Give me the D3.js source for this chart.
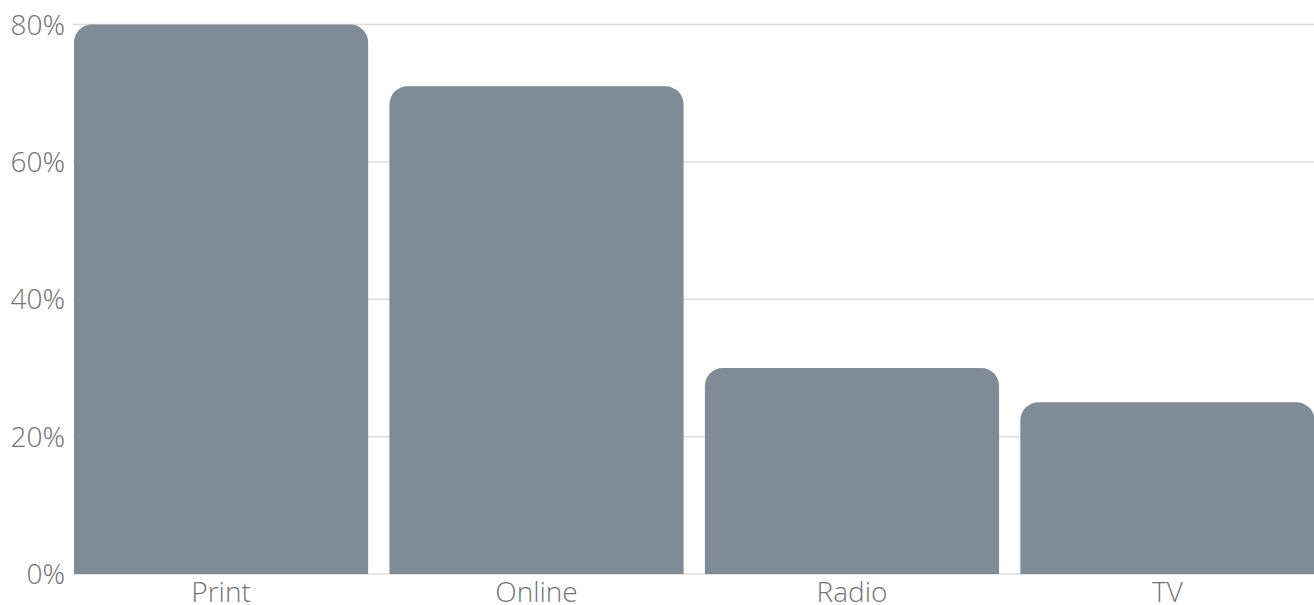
<!DOCTYPE html>
<html>
<head>
<meta charset="utf-8">
<script src="https://cdn.jsdelivr.net/npm/d3@7"></script>
<style>
    body { margin: 0; background: #fff; }
    svg { display: block; }
    .lbl { font-size: 28px; fill: #747474; }
</style>
</head>
<body>
<svg id="chart"></svg>
<script>
const categories = ["Print", "Online", "Radio", "TV"];
const shares = [80, 71, 30, 25];
const yTicks = [0, 20, 40, 60, 80];

const width = 1314;
const height = 605;
const margin = {top: 24.5, right: 0, bottom: 31, left: 74};

const svg = d3.select("#chart")
    .attr("width", width)
    .attr("height", height)
    .style("font-family", "'Open Sans Light', 'Open Sans', sans-serif")
    .style("font-weight", 300);

const x = d3.scaleBand()
    .domain(categories)
    .range([margin.left, width + 0.5])
    .paddingInner(0.0675)
    .paddingOuter(0);

const y = d3.scaleLinear()
    .domain([0, 80])
    .range([height - margin.bottom, margin.top]);

// grid lines
svg.append("g")
    .selectAll("line")
    .data(yTicks)
    .join("line")
        .attr("x1", margin.left - 1)
        .attr("x2", width)
        .attr("y1", d => y(d))
        .attr("y2", d => y(d))
        .attr("stroke", "#dcdcdc")
        .attr("stroke-width", 1.5);

// y labels
svg.append("g")
    .selectAll("text")
    .data(yTicks)
    .join("text")
        .attr("class", "lbl")
        .attr("x", 65)
        .attr("y", d => y(d))
        .attr("dy", "0.36em")
        .attr("text-anchor", "end")
        .text(d => d + "%");

// bars, only the top corners rounded
function barPath(x0, y0, w, y1, r) {
    r = Math.min(r, w / 2, (y1 - y0));
    return `M${x0},${y1}V${y0 + r}A${r},${r} 0 0 1 ${x0 + r},${y0}` +
        `H${x0 + w - r}A${r},${r} 0 0 1 ${x0 + w},${y0 + r}V${y1}Z`;
}

const data = categories.map((c, i) => ({name: c, value: shares[i]}));

svg.append("g")
    .selectAll("path")
    .data(data)
    .join("path")
        .attr("d", d => barPath(x(d.name), y(d.value), x.bandwidth(), y(0), 18))
        .attr("fill", "#7f8b97");

// x labels
svg.append("g")
    .selectAll("text")
    .data(categories)
    .join("text")
        .attr("class", "lbl")
        .attr("x", d => x(d) + x.bandwidth() / 2)
        .attr("y", 602)
        .attr("text-anchor", "middle")
        .text(d => d);
</script>
</body>
</html>
